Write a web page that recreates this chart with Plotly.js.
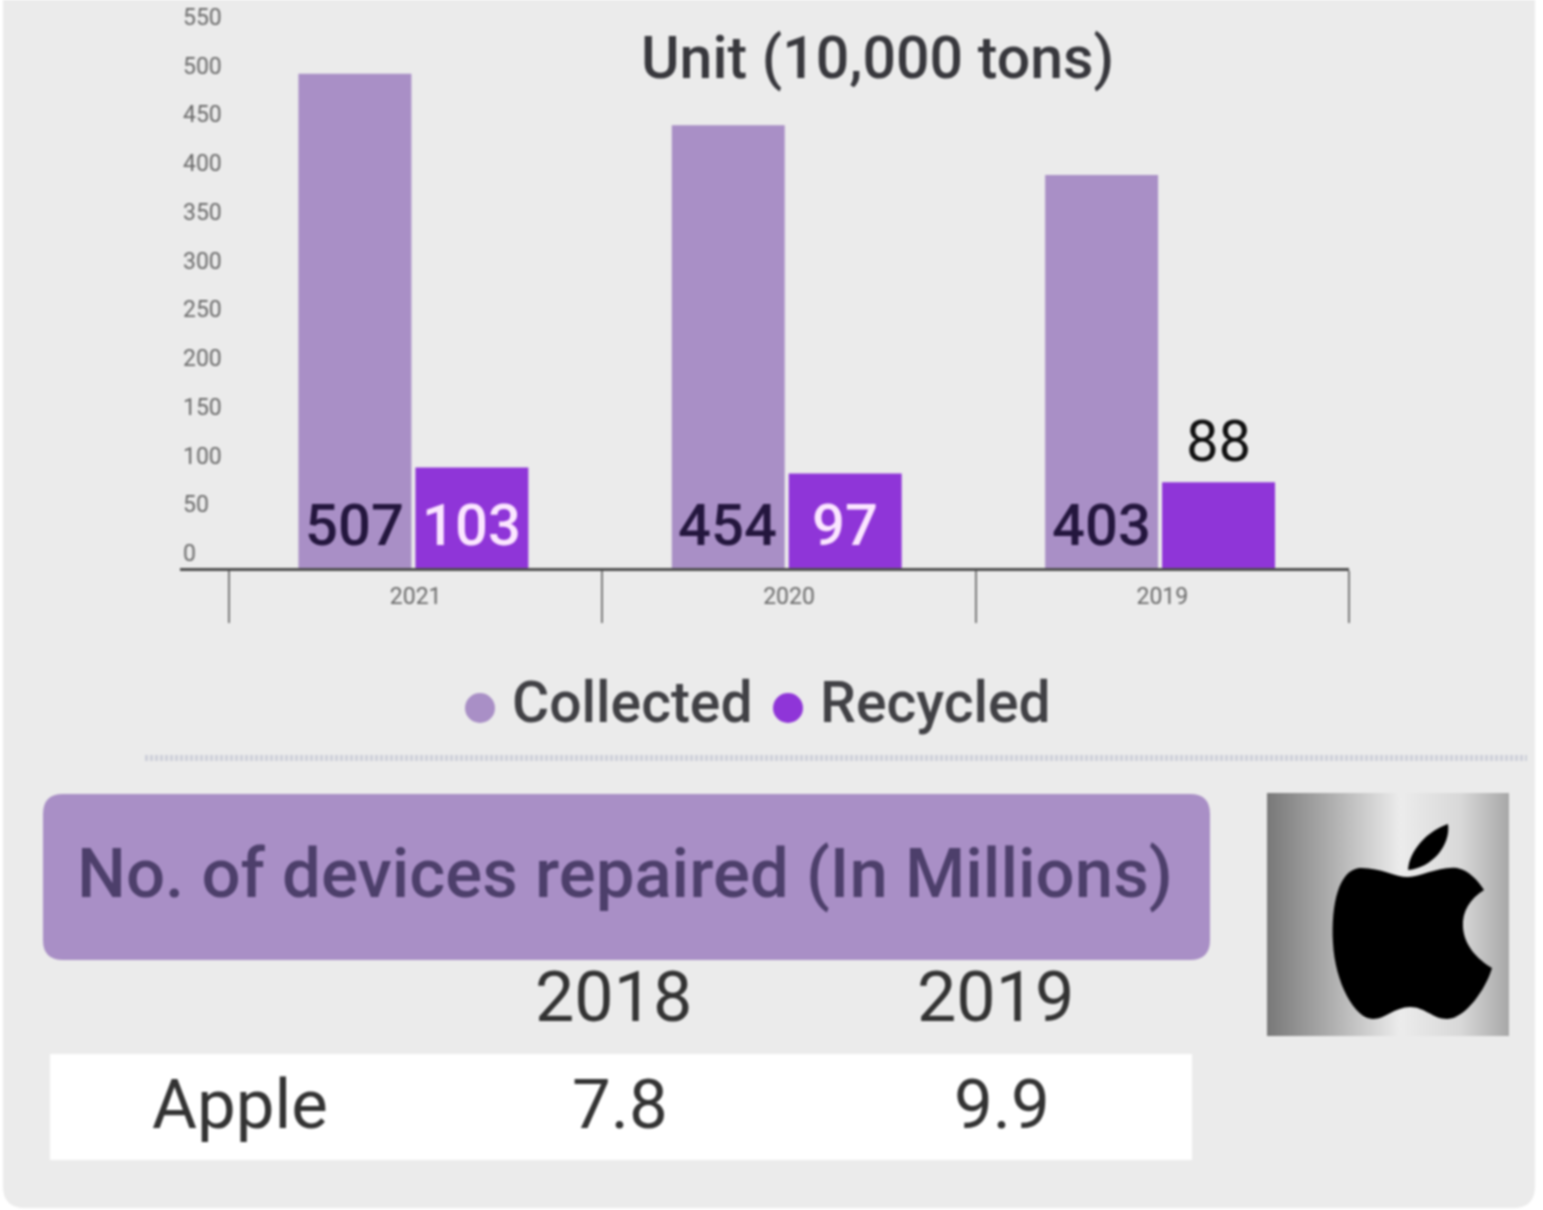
<!DOCTYPE html>
<html><head><meta charset="utf-8">
<script src="https://cdn.plot.ly/plotly-3.0.1.min.js"></script>
<style>html,body{margin:0;padding:0;background:#fff}#g{width:1543px;height:1210px;filter:blur(1px)}</style>
</head><body><div id="g"></div>
<script>
const years = ['2021','2020','2019'];
const collected = [507,454,403];
const recycled = [103,97,88];
const chartUnit = 'Unit (10,000 tons)';
const seriesNames = ['Collected','Recycled'];
const repairTitle = 'No. of devices repaired (In Millions)';
const repairYears = ['2018','2019'];
const repairBrand = 'Apple';
const repairValues = ['7.8','9.9'];

const W=1543,H=1210;
const px=x=>x/W, py=y=>1-y/H;
const F='Roboto, sans-serif';
const cCol='#A98FC6', cRec='#8F35D8';
const unitPx=0.975, catW=373.5;

function rr(x0,y0,x1,y1,r){
  const X=v=>px(v).toFixed(5),Y=v=>py(v).toFixed(5);
  return `M${X(x0+r)},${Y(y0)} L${X(x1-r)},${Y(y0)} Q${X(x1)},${Y(y0)} ${X(x1)},${Y(y0+r)} L${X(x1)},${Y(y1-r)} Q${X(x1)},${Y(y1)} ${X(x1-r)},${Y(y1)} L${X(x0+r)},${Y(y1)} Q${X(x0)},${Y(y1)} ${X(x0)},${Y(y1-r)} L${X(x0)},${Y(y0+r)} Q${X(x0)},${Y(y0)} ${X(x0+r)},${Y(y0)} Z`;
}
const logo=`<svg xmlns="http://www.w3.org/2000/svg" width="242" height="243" viewBox="0 0 242 243"><defs><linearGradient id="a" x1="0" x2="1" y1="0" y2="0"><stop offset="0" stop-color="#787878"/><stop offset="0.25" stop-color="#ababab"/><stop offset="0.55" stop-color="#ececec"/><stop offset="0.8" stop-color="#d8d8d8"/><stop offset="1" stop-color="#a8a8a8"/></linearGradient></defs><rect width="242" height="243" fill="url(#a)"/><path d="M141 77C142 58 160 38 181 31C184 52 165 75 141 77Z"/><path d="M92 75C112 74 128 84 141 84C154 84 172 73 190 75C202 77 211 88 217 97C203 106 195 118 196 134C197 152 210 166 225 175C219 196 198 226 180 226C166 226 158 214 143 214C128 214 118 226 106 226C88 226 68 190 66 150C64 110 72 78 92 75Z"/></svg>`;

const labelAnn=[];
years.forEach((y,i)=>{
  labelAnn.push({x:i,y:0,xref:'x',yref:'y',text:String(collected[i]),showarrow:false,xanchor:'center',yanchor:'bottom',xshift:-61,yshift:7,font:{family:F,size:58,color:'#24163e',weight:500}});
  if(recycled[i]>=90) labelAnn.push({x:i,y:0,xref:'x',yref:'y',text:String(recycled[i]),showarrow:false,xanchor:'center',yanchor:'bottom',xshift:56,yshift:7,font:{family:F,size:58,color:'#FBE6FF',weight:500}});
  else labelAnn.push({x:i,y:recycled[i],xref:'x',yref:'y',text:String(recycled[i]),showarrow:false,xanchor:'center',yanchor:'bottom',xshift:56,yshift:5,font:{family:F,size:58,color:'#111'}});
});
function txt(x,y,t,size,color,weight){return {xref:'paper',yref:'paper',x:px(x),y:py(y),text:t,showarrow:false,xanchor:'center',yanchor:'middle',font:{family:F,size:size,color:color,weight:weight||400}};}

const annotations=[
  ...labelAnn,
  txt(877,57,chartUnit,59,'#38383d',500),
  txt(632,702,seriesNames[0],57,'#414145',500),
  txt(935,702,seriesNames[1],57,'#414145',500),
  txt(625,873,repairTitle,69,'#4d3f6b',500),
  txt(613,997,repairYears[0],70,'#333'),
  txt(995,997,repairYears[1],70,'#333'),
  txt(240,1104,repairBrand,69,'#333'),
  txt(620,1104,repairValues[0],69,'#333'),
  txt(1002,1104,repairValues[1],69,'#333')
];
const shapes=[
  {type:'path',xref:'paper',yref:'paper',path:rr(3,-40,1535,1208,22),fillcolor:'#EBEBEB',line:{width:0},layer:'below'},
  {type:'line',xref:'paper',yref:'paper',x0:px(145),x1:px(1527),y0:py(758),y1:py(758),line:{color:'#CDCFD9',width:6,dash:'3px,2px'},layer:'below'},
  {type:'path',xref:'paper',yref:'paper',path:rr(43,794,1210,960,20),fillcolor:cCol,line:{width:0},layer:'below'},
  {type:'rect',xref:'paper',yref:'paper',x0:px(50),x1:px(1192),y0:py(1054),y1:py(1160),fillcolor:'#fff',line:{width:0},layer:'below'},
  {type:'circle',xref:'paper',yref:'paper',x0:px(465),x1:px(495),y0:py(693),y1:py(723),fillcolor:cCol,line:{width:0}},
  {type:'circle',xref:'paper',yref:'paper',x0:px(773),x1:px(803),y0:py(693),y1:py(723),fillcolor:cRec,line:{width:0}}
];
const images=[{source:'data:image/svg+xml;base64,'+btoa(logo),xref:'paper',yref:'paper',x:px(1267),y:py(793),sizex:242/W,sizey:243/H,sizing:'stretch',xanchor:'left',yanchor:'top',layer:'above'}];

const barW=113/catW;
const traces=[
 {type:'bar',name:seriesNames[0],x:years,y:collected,marker:{color:cCol},width:barW,offset:-117.25/catW},
 {type:'bar',name:seriesNames[1],x:years,y:recycled,marker:{color:cRec},width:barW,offset:-0.25/catW}
];
const layout={
 width:W,height:H,margin:{l:0,r:0,t:0,b:0},paper_bgcolor:'#fff',plot_bgcolor:'rgba(0,0,0,0)',showlegend:false,
 xaxis:{type:'category',categoryorder:'array',categoryarray:years,domain:[px(180),px(1349)],range:[-0.5-49/catW,2.5],
   showline:true,linecolor:'#4f4f4f',linewidth:3,showgrid:false,zeroline:false,
   ticks:'outside',tickson:'boundaries',ticklen:52,tickwidth:2,tickcolor:'#7a7a7a',
   ticklabelstandoff:5,tickfont:{family:F,size:23,color:'#6a6a6a'}},
 yaxis:{domain:[py(568),1],range:[0,568/unitPx],tickmode:'array',tickvals:[0,50,100,150,200,250,300,350,400,450,500,550],
   showline:false,showgrid:false,zeroline:false,ticks:'',ticklabelposition:'inside',ticklabelshift:-15,
   tickfont:{family:F,size:23,color:'#6a6a6a'}},
 annotations,shapes,images
};
Plotly.newPlot('g',traces,layout,{displayModeBar:false,staticPlot:true});
</script></body></html>
